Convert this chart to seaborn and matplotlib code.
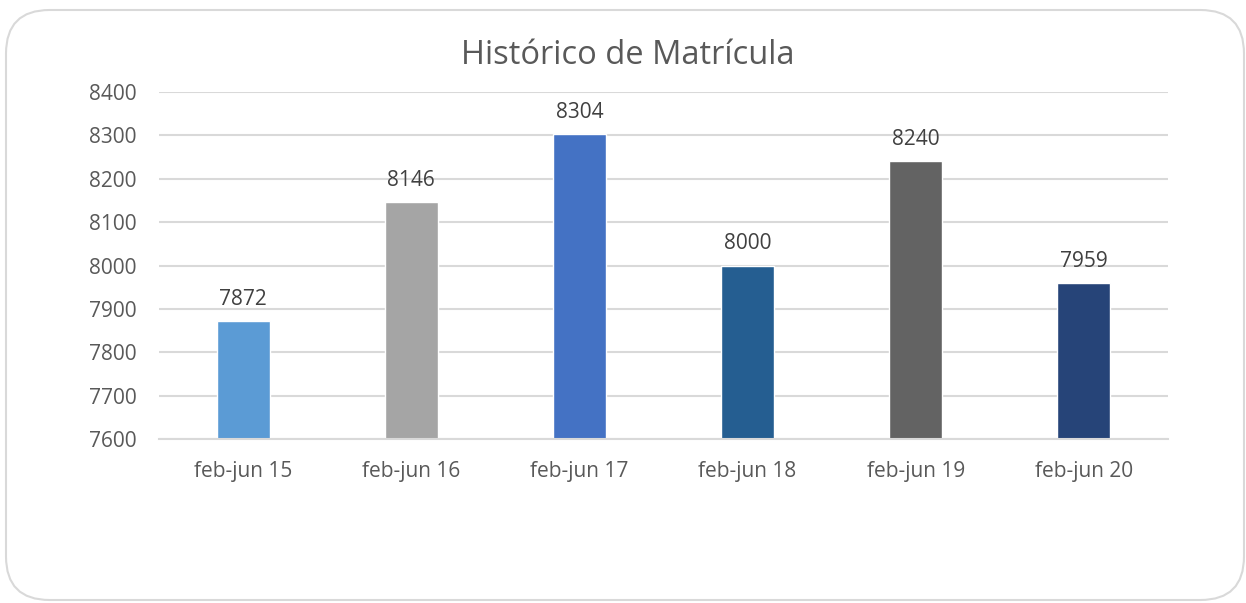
import matplotlib
matplotlib.use("Agg")
import pandas as pd
import seaborn as sns
from matplotlib import pyplot as plt
from matplotlib.patches import FancyBboxPatch

# data
periodos = ['feb-jun 15', 'feb-jun 16', 'feb-jun 17', 'feb-jun 18', 'feb-jun 19', 'feb-jun 20']
matricula = [7872, 8146, 8304, 8000, 8240, 7959]
colores = ['#5B9BD5', '#A5A5A5', '#4472C4', '#255E91', '#636363', '#264478']

df = pd.DataFrame({'periodo': periodos, 'matricula': matricula})

sns.set_style('white')
plt.rcParams['font.family'] = ['Open Sans', 'DejaVu Sans']
txt = '#595959'

fig = plt.figure(figsize=(12.46, 6.03), dpi=100)
ax = fig.add_axes([159 / 1246, 1 - 439 / 603, (1168 - 159) / 1246, (439 - 92) / 603])

sns.barplot(data=df, x='periodo', y='matricula', hue='periodo', palette=colores,
            legend=False, width=0.315, ax=ax, saturation=1)

ax.set_ylim(7600, 8400)
ax.set_yticks(range(7600, 8401, 100))
ax.set_xlim(-0.5, 5.5)
ax.yaxis.grid(True, color='#D9D9D9', lw=1.5)
ax.set_axisbelow(True)
for s in ['top', 'right', 'left']:
    ax.spines[s].set_visible(False)
ax.spines['bottom'].set_color('#D9D9D9')
ax.spines['bottom'].set_linewidth(1.5)
ax.tick_params(axis='both', length=0, labelsize=15, labelcolor=txt)
ax.tick_params(axis='y', pad=16)
ax.tick_params(axis='x', pad=15.5)
ax.set_xlabel('')
ax.set_ylabel('')

for i, v in enumerate(matricula):
    ax.annotate(str(v), (i, v), xytext=(0, 8), textcoords='offset points',
                ha='center', va='bottom', fontsize=15, color='#404040')

fig.text(628 / 1246, 1 - 56 / 603, 'Histórico de Matrícula', ha='center', va='center',
         fontsize=23.5, color=txt)

# rounded chart border
box = FancyBboxPatch((6 / 1246, 3 / 603), 1238 / 1246, (593 - 3) / 603,
                     boxstyle='round,pad=0,rounding_size=0.035',
                     transform=fig.transFigure, fill=False,
                     edgecolor='#D9D9D9', lw=1.5, mutation_aspect=1246 / 603)
fig.patches.append(box)

fig.savefig('out.png', dpi=100)
